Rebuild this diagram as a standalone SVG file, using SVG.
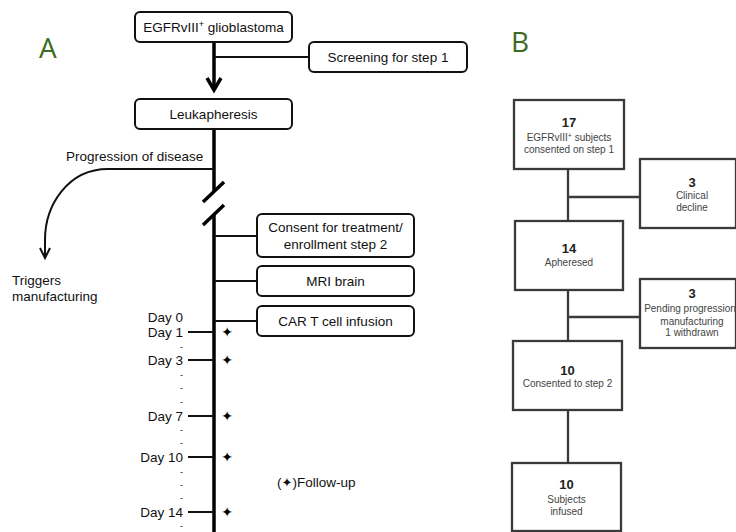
<svg xmlns="http://www.w3.org/2000/svg" width="736" height="532" viewBox="0 0 736 532">
<style>
.bx{fill:#fff;stroke:#111;stroke-width:2}
.t{font-family:"Liberation Sans",Arial,sans-serif;font-size:13.5px;fill:#111}
.c{text-anchor:middle}
.e{text-anchor:end}
.d{font-family:"Liberation Sans",Arial,sans-serif;font-size:9px;fill:#111;text-anchor:middle}
.ln{stroke:#111;stroke-width:2;fill:none}
.main{stroke:#000;stroke-width:3.5;fill:none}
.lab{font-family:"Open Sans",sans-serif;font-size:28px;fill:#3d6b21}
.star{font-family:"DejaVu Sans",sans-serif;font-size:14px;fill:#000;text-anchor:middle}
.bb{fill:#fff;stroke:#3a3a3a;stroke-width:2.3}
.bl{stroke:#3a3a3a;stroke-width:2.3;fill:none}
.n{font-family:"Liberation Sans",Arial,sans-serif;font-size:13px;font-weight:bold;fill:#222;text-anchor:middle}
.s{font-family:"Liberation Sans",Arial,sans-serif;font-size:10px;fill:#444;text-anchor:middle}
</style>
<text class="lab" x="39" y="58">A</text>
<text class="lab" x="511" y="52">B</text>
<g id="connectors">
<path class="main" d="M214,42 V90"/>
<path class="main" d="M207,78 L214,90 L221,78" stroke-linejoin="miter"/>
<path class="ln" d="M214,57 H309"/>
<path class="main" d="M214,129 V191"/>
<path class="main" d="M214,215 V532"/>
<path class="main" d="M203,202 L224,182"/>
<path class="main" d="M203,225 L224,205"/>
<path class="ln" d="M214,169 H108 C68,169 45,205 45,240 V257"/>
<path class="ln" d="M40,248 L45,258 L50,248"/>
<path class="ln" d="M214,236 H257"/>
<path class="ln" d="M214,281 H257"/>
<path class="ln" d="M214,321 H257"/>
<path class="ln" stroke-width="2.5" d="M188,332 H214 M188,360 H214 M188,416 H214 M188,457 H214 M188,512 H214"/>
<path class="bl" d="M568,169 V221 M568,197 H640 M568,290 V341 M568,317 H640 M568,410 V463"/>
</g>
<g id="egfr"><rect class="bx" x="135" y="12" width="157" height="30" rx="5"/><text class="t c" x="213.5" y="32">EGFRvIII<tspan font-size="9" dy="-5">+</tspan><tspan dy="5"> glioblastoma</tspan></text></g>
<g id="screening"><rect class="bx" x="309" y="42" width="158" height="30" rx="5"/><text class="t c" x="388" y="62">Screening for step 1</text></g>
<g id="leuk"><rect class="bx" x="135" y="99" width="157" height="30" rx="5"/><text class="t c" x="213.5" y="119">Leukapheresis</text></g>
<g id="progression"><text class="t" x="66" y="161">Progression of disease</text></g>
<g id="triggers"><text class="t" x="12" y="285">Triggers</text><text class="t" x="12" y="301">manufacturing</text></g>
<g id="consent"><rect class="bx" x="257" y="214" width="157" height="43" rx="5"/><text class="t c" x="335.5" y="232">Consent for treatment/</text><text class="t c" x="335.5" y="249">enrollment step 2</text></g>
<g id="mri"><rect class="bx" x="257" y="266" width="157" height="30" rx="5"/><text class="t c" x="335.5" y="286">MRI brain</text></g>
<g id="cart"><rect class="bx" x="257" y="306" width="157" height="30" rx="5"/><text class="t c" x="335.5" y="326">CAR T cell infusion</text></g>
<g id="days">
<text class="t e" x="183" y="322">Day 0</text>
<text class="t e" x="183" y="337">Day 1</text>
<text class="t e" x="183" y="365">Day 3</text>
<text class="t e" x="183" y="421">Day 7</text>
<text class="t e" x="183" y="462">Day 10</text>
<text class="t e" x="183" y="517">Day 14</text>
<text class="d" x="181.5" y="350">-</text><text class="d" x="181.5" y="378">-</text><text class="d" x="181.5" y="391">-</text><text class="d" x="181.5" y="405">-</text>
<text class="d" x="181.5" y="433">-</text><text class="d" x="181.5" y="446">-</text><text class="d" x="181.5" y="475">-</text><text class="d" x="181.5" y="488">-</text>
<text class="d" x="181.5" y="501">-</text><text class="d" x="181.5" y="529">-</text>
<text class="star" x="227" y="337">✦</text>
<text class="star" x="227" y="365">✦</text>
<text class="star" x="227" y="421">✦</text>
<text class="star" x="227" y="462">✦</text>
<text class="star" x="227" y="517">✦</text>
</g>
<g id="followup"><text class="t" x="277" y="487">(<tspan font-family="DejaVu Sans" font-size="13">✦</tspan>)Follow-up</text></g>
<g id="b17"><rect class="bb" x="514" y="100" width="110" height="69"/><text class="n" x="569" y="127">17</text><text class="s" x="569" y="141">EGFRvIII<tspan font-size="7" dy="-3">+</tspan><tspan dy="3"> subjects</tspan></text><text class="s" x="569" y="153">consented on step 1</text></g>
<g id="bclin"><rect class="bb" x="640" y="159" width="96" height="69"/><text class="n" x="692" y="187">3</text><text class="s" x="692" y="199">Clinical</text><text class="s" x="692" y="211">decline</text></g>
<g id="b14"><rect class="bb" x="515" y="221" width="108" height="69"/><text class="n" x="569" y="253">14</text><text class="s" x="569" y="266">Apheresed</text></g>
<g id="bpend"><rect class="bb" x="640" y="279" width="96" height="69"/><text class="n" x="692" y="298">3</text><text class="s" x="690" y="312" font-size="9.4">Pending progression</text><text class="s" x="692" y="325">manufacturing</text><text class="s" x="692" y="336">1 withdrawn</text></g>
<g id="b10"><rect class="bb" x="513" y="341" width="109" height="69"/><text class="n" x="567.5" y="375">10</text><text class="s" x="567.5" y="387">Consented to step 2</text></g>
<g id="b10i"><rect class="bb" x="512" y="463" width="109" height="68"/><text class="n" x="566.5" y="489">10</text><text class="s" x="566.5" y="503">Subjects</text><text class="s" x="566.5" y="515">infused</text></g>
</svg>
